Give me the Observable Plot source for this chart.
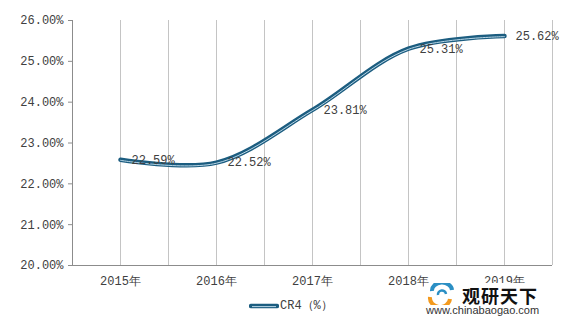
<!DOCTYPE html>
<html>
<head>
<meta charset="utf-8">
<script src="https://cdn.jsdelivr.net/npm/d3@7"></script>
<script src="https://cdn.jsdelivr.net/npm/@observablehq/plot@0.6"></script>
<style>
  html, body { margin: 0; padding: 0; background: #fff; }
  #wrap { position: relative; width: 568px; height: 325px; overflow: hidden; }
  #legend { position: absolute; left: 249px; top: 297px; display: flex; align-items: center;
    font: 12px "Liberation Mono", monospace; color: #404040; }
  #wm { position: absolute; left: 424px; top: 283px; width: 120px; height: 38px; background: #fff; }
  #wm .brand { position: absolute; left: 38px; top: -1px; font: bold 18px "Noto Sans CJK SC", sans-serif; color: #111; letter-spacing: 1px; }
  #wm .url { position: absolute; left: 2px; top: 21px; font: 11px "Liberation Sans", Arial, sans-serif; color: #333; }
</style>
</head>
<body>
<div id="wrap"></div>
<script>
const years = ["2015年", "2016年", "2017年", "2018年", "2019年"];
const values = [22.59, 22.52, 23.81, 25.31, 25.62];
const yTicks = [20, 21, 22, 23, 24, 25, 26];
const seriesName = "CR4（%）";

const data = years.map((year, i) => ({ i, year, value: values[i] }));
const gridX = d3.range(0, 10).map(k => k * 0.5);
const font = '"Liberation Mono", monospace';

const chart = Plot.plot({
  width: 568,
  height: 325,
  marginTop: 20,
  marginBottom: 60,
  marginLeft: 72,
  marginRight: 16,
  style: { fontFamily: font, fontSize: "12px", color: "#404040", background: "#fff" },
  x: { domain: [-0.5, 4.5], axis: null },
  y: { domain: [20, 26], axis: null },
  marks: [
    Plot.ruleX(gridX, { x: d => d, stroke: "#c4c4c4", strokeWidth: 1 }),
    Plot.ruleX([-0.5], { stroke: "#8c8c8c", strokeWidth: 1 }),
    Plot.ruleY([20], { stroke: "#8c8c8c", strokeWidth: 1 }),
    Plot.axisY({ ticks: yTicks, tickFormat: d => d.toFixed(2) + "%", tickSize: 4, tickPadding: 5,
      stroke: "#8c8c8c", fill: "#404040", fontSize: 12, label: null }),
    Plot.axisX({ ticks: [0, 1, 2, 3, 4], tickFormat: i => years[i], tickSize: 0, tickPadding: 11,
      fill: "#404040", fontSize: 12, label: null }),
    Plot.line(data, { x: "i", y: "value", curve: "catmull-rom", stroke: "#1c5d80", strokeWidth: 4.5,
      strokeLinecap: "round", strokeLinejoin: "round" }),
    Plot.line(data, { x: "i", y: "value", curve: "catmull-rom", stroke: "#b9d6e6", strokeWidth: 1,
      dy: 0.6, strokeLinecap: "round" }),
    Plot.text(data, { x: "i", y: "value", text: d => d.value.toFixed(2) + "%", dx: 11,
      textAnchor: "start", fill: "#404040", fontSize: 12, fontFamily: font })
  ]
});

const wrap = document.getElementById("wrap");
wrap.appendChild(chart);

const legend = document.createElement("div");
legend.id = "legend";
legend.innerHTML = `<svg width="30" height="8" style="margin-right:1px"><line x1="2" y1="4" x2="28" y2="4" stroke="#1c5d80" stroke-width="4.5" stroke-linecap="round"/><line x1="3" y1="4.6" x2="27" y2="4.6" stroke="#b9d6e6" stroke-width="1"/></svg><span></span>`;
legend.querySelector("span").textContent = seriesName;
wrap.appendChild(legend);

const wm = document.createElement("div");
wm.id = "wm";
wm.innerHTML = `<svg width="32" height="22" style="position:absolute;left:2px;top:0px">
  <path d="M4 14 A10 9 0 0 0 24 16" fill="none" stroke="#f39a1e" stroke-width="4"/>
  <path d="M6 8 A10 8 0 0 1 26 7" fill="none" stroke="#2b8fc4" stroke-width="4"/>
  <path d="M12 12 A4 4 0 0 1 20 11" fill="none" stroke="#2b8fc4" stroke-width="2.5"/>
</svg><div class="brand">观研天下</div><div class="url">www.chinabaogao.com</div>`;
wrap.appendChild(wm);
</script>
</body>
</html>
